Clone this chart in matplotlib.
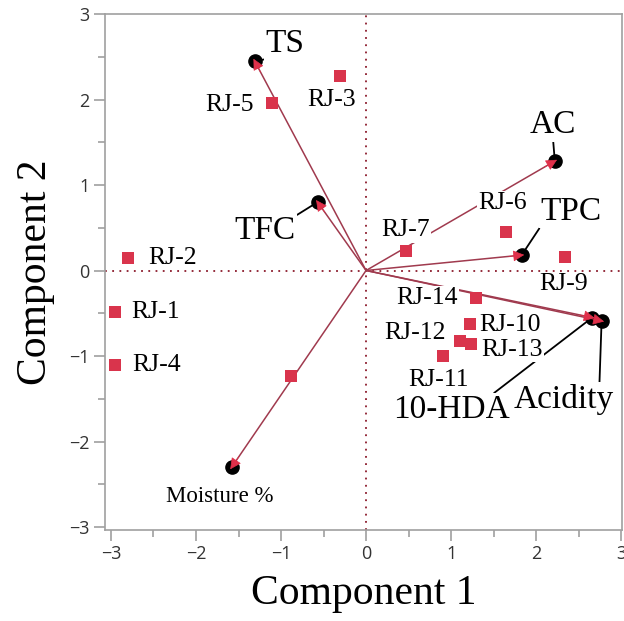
import numpy as np
import matplotlib.pyplot as plt

# scores (samples)
rj_names = ['RJ-1', 'RJ-2', 'RJ-3', 'RJ-4', 'RJ-5', 'RJ-6', 'RJ-7', 'RJ-8',
            'RJ-9', 'RJ-10', 'RJ-11', 'RJ-12', 'RJ-13', 'RJ-14']
rj_x = [-2.95, -2.80, -0.31, -2.95, -1.11, 1.65, 0.47, -0.88,
        2.34, 1.22, 0.91, 1.10, 1.24, 1.29]
rj_y = [-0.49, 0.15, 2.27, -1.10, 1.96, 0.45, 0.23, -1.23,
        0.16, -0.63, -1.00, -0.83, -0.86, -0.32]
# label positions for the samples (RJ-8 has no label)
rj_lab_x = [-2.48, -2.28, -0.40, -2.46, -1.60, 1.60, 0.46, None,
            2.32, 1.69, 0.85, 0.58, 1.72, 0.72]
rj_lab_y = [-0.49, 0.15, 1.99, -1.11, 1.93, 0.79, 0.47, None,
            -0.16, -0.64, -1.28, -0.73, -0.93, -0.32]

# loadings (variables)
var_names = ['TS', 'TFC', 'AC', 'TPC', '10-HDA', 'Acidity', 'Moisture %']
var_x = [-1.31, -0.57, 2.22, 1.83, 2.66, 2.77, -1.58]
var_y = [2.45, 0.80, 1.28, 0.18, -0.55, -0.59, -2.30]
var_lab_x = [-0.95, -1.19, 2.20, 2.41, 1.00, 2.32, -1.72]
var_lab_y = [2.65, 0.46, 1.70, 0.69, -1.63, -1.51, -2.64]
var_lab_size = [24, 24, 24, 24, 24, 24, 16.5]
var_relpos = [(0, 0), (1, 1), (0.5, 0), (0, 0), (0.85, 1), (0.86, 1), None]

line_col = '#a03a4e'
sq_col = '#d9344c'
head_col = '#e0304a'
serif = 'Liberation Serif'

fig = plt.figure(figsize=(6.24, 6.21), dpi=100)
ax = fig.add_axes([105/624, 91/621, 517/624, 516/621])

ax.axhline(0, color='#8b1a2b', lw=1.3, ls=(0, (1, 3)), zorder=1)
ax.axvline(0, color='#8b1a2b', lw=1.3, ls=(0, (1, 3)), zorder=1)

# loading vectors
for x, y in zip(var_x, var_y):
    ax.plot([0, x], [0, y], color=line_col, lw=1.1, zorder=2)
    ax.plot(x, y, 'o', color='black', ms=9.5, zorder=5)
    d = np.hypot(x, y)
    ax.annotate('', xy=(x + 0.03*x/d, y + 0.03*y/d),
                xytext=(x - 0.15*x/d, y - 0.15*y/d),
                arrowprops=dict(arrowstyle='-|>,head_length=0.7,head_width=0.35',
                                color=head_col, lw=0.5, shrinkA=0, shrinkB=0),
                zorder=6)

# scores
ax.scatter(rj_x, rj_y, marker='s', s=80, color=sq_col, zorder=4, linewidths=0)

for n, lx, ly, s, rp, x, y in zip(var_names, var_lab_x, var_lab_y, var_lab_size,
                                   var_relpos, var_x, var_y):
    bb = dict(boxstyle='square,pad=0.05', fc='white', ec='none')
    if rp is None:
        ax.text(lx, ly, n, fontsize=s, family=serif, ha='center', va='center',
                bbox=bb, zorder=3)
    else:
        ax.annotate(n, xy=(x, y), xytext=(lx, ly), fontsize=s, family=serif,
                    ha='center', va='center', bbox=bb, zorder=3,
                    arrowprops=dict(arrowstyle='-', color='black', lw=1.3,
                                    relpos=rp, shrinkA=0, shrinkB=0))

for n, lx, ly in zip(rj_names, rj_lab_x, rj_lab_y):
    if lx is None:
        continue
    ax.text(lx, ly, n, fontsize=18.5, family=serif, ha='center', va='center',
            bbox=dict(boxstyle='square,pad=0.05', fc='white', ec='none'), zorder=3)

ax.set_xlim(-3.07, 3.01)
ax.set_ylim(-3.035, 3.0)
ax.set_xticks(np.arange(-3, 4, 1))
ax.set_yticks(np.arange(-3, 4, 1))
ax.set_xticks(np.arange(-2.5, 3, 1), minor=True)
ax.set_yticks(np.arange(-2.5, 3, 1), minor=True)
ax.tick_params(which='major', direction='out', length=8, width=1.2, color='#a0a0a0',
               labelsize=13, labelcolor='#333333', pad=3)
ax.tick_params(which='minor', direction='out', length=5, width=1.2, color='#a0a0a0')
for lab in ax.get_xticklabels() + ax.get_yticklabels():
    lab.set_family('Open Sans')
for sp in ax.spines.values():
    sp.set_color('#a0a0a0')
    sp.set_linewidth(1.2)

ax.set_xlabel('Component 1', fontsize=30, family=serif, labelpad=8)
ax.set_ylabel('Component 2', fontsize=30, family=serif, labelpad=10)

fig.savefig('out.png', dpi=100)
